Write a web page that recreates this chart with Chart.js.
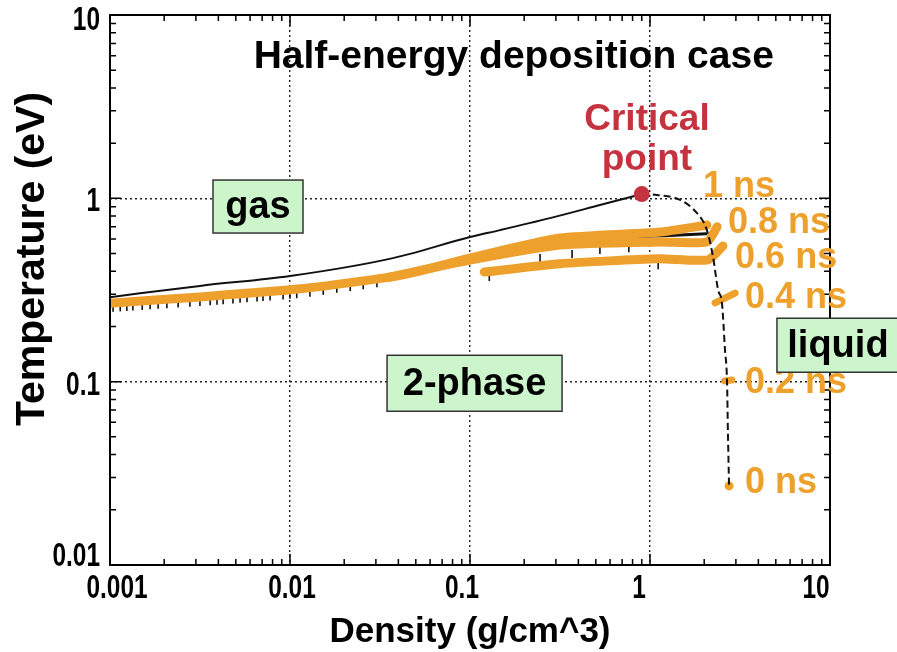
<!DOCTYPE html>
<html lang="en">
<head>
<meta charset="UTF-8">
<title>Half-energy deposition case</title>
<script src="https://cdn.jsdelivr.net/npm/chart.js"></script>
<style>
  html, body { margin: 0; padding: 0; background: #fff; }
</style>
</head>
<body>
<canvas id="phase" width="897" height="652"></canvas>
<script>
// axis ranges and labelled decades
const densityDecades = [0.001, 0.01, 0.1, 1, 10];
const tempDecades = [0.01, 0.1, 1, 10];
const minorSteps = [1, 2, 3, 4, 5, 6, 7, 8, 9];

// coexistence curve, gas branch (solid) up to the critical point
const gasBranch = [
  {x: 0.001, y: 0.289}, {x: 0.00316, y: 0.333}, {x: 0.01, y: 0.377},
  {x: 0.0373, y: 0.472}, {x: 0.1, y: 0.615}, {x: 0.147, y: 0.671},
  {x: 0.278, y: 0.78}, {x: 0.527, y: 0.919}, {x: 0.9, y: 1.055}
];

// coexistence curve, liquid branch (dashed)
const liquidBranch = [
  {x: 0.9, y: 1.055}, {x: 1.09, y: 1.044}, {x: 1.47, y: 0.98},
  {x: 1.82, y: 0.832}, {x: 2.07, y: 0.671}, {x: 2.24, y: 0.479},
  {x: 2.39, y: 0.316}, {x: 2.51, y: 0.268}, {x: 2.61, y: 0.149},
  {x: 2.68, y: 0.0983}, {x: 2.71, y: 0.0524}, {x: 2.75, y: 0.0266}
];

const criticalPoint = [{x: 0.9, y: 1.055}];

// surface state tracks at each time
const track1ns = [
  {x: 0.001, y: 0.268}, {x: 0.00316, y: 0.29}, {x: 0.0114, y: 0.321},
  {x: 0.0409, y: 0.38}, {x: 0.1, y: 0.472}, {x: 0.316, y: 0.607},
  {x: 1.14, y: 0.655}, {x: 2.07, y: 0.715}
];
const track08ns = [
  {x: 0.035, y: 0.37}, {x: 0.1, y: 0.46}, {x: 0.316, y: 0.556},
  {x: 1.14, y: 0.578}, {x: 2.07, y: 0.578}, {x: 2.36, y: 0.7}
];
const track06ns = [
  {x: 0.12, y: 0.396}, {x: 0.316, y: 0.44}, {x: 1.11, y: 0.468},
  {x: 2.1, y: 0.462}, {x: 2.54, y: 0.55}
];
const track04ns = [{x: 2.3, y: 0.269}, {x: 2.97, y: 0.304}];
const track02ns = [{x: 2.6, y: 0.101}, {x: 2.85, y: 0.102}];
const track00ns = [{x: 2.75, y: 0.027}];

// simulation cells under the tracks
const cellMarks = [
  {x: 0.00104, y: 0.2527}, {x: 0.00114, y: 0.2543}, {x: 0.00124, y: 0.2556},
  {x: 0.00134, y: 0.2569}, {x: 0.00151, y: 0.2588}, {x: 0.00167, y: 0.2608},
  {x: 0.00185, y: 0.2624}, {x: 0.00207, y: 0.2644}, {x: 0.00239, y: 0.2668},
  {x: 0.00278, y: 0.2694}, {x: 0.00316, y: 0.2718}, {x: 0.0036, y: 0.2745},
  {x: 0.00393, y: 0.2766}, {x: 0.00425, y: 0.278}, {x: 0.00482, y: 0.2808},
  {x: 0.00528, y: 0.2829}, {x: 0.00577, y: 0.2851}, {x: 0.00656, y: 0.288},
  {x: 0.00708, y: 0.2894}, {x: 0.00775, y: 0.2916}, {x: 0.00915, y: 0.2953},
  {x: 0.01, y: 0.2976}, {x: 0.0109, y: 0.2998}, {x: 0.0129, y: 0.3059},
  {x: 0.0153, y: 0.3129}, {x: 0.0182, y: 0.3209}, {x: 0.0216, y: 0.3281},
  {x: 0.0255, y: 0.3356}, {x: 0.0304, y: 0.3441},
  {x: 0.128, y: 0.372}, {x: 0.245, y: 0.472}, {x: 0.369, y: 0.497},
  {x: 0.527, y: 0.522}, {x: 0.763, y: 0.535}, {x: 1.11, y: 0.432}
];
const coreTrace = [
  {x: 0.25, y: 0.585}, {x: 0.6, y: 0.615}, {x: 1.2, y: 0.625}, {x: 2.05, y: 0.64}
];

// tick label text and small nudges (px) away from the tick position
const densityLabels = ['0.001', '0.01', '0.1', '1', '10'];
const densityNudge = [7, 2, -8, -11, -14];
const tempLabels = ['0.01', '0.1', '1', '10'];
const tempNudge = [-8, 4, 4, 6];

// text placed in data units
const timeLabels = [
  {text: '1 ns', x: 1.97, y: 1.15},
  {text: '0.8 ns', x: 2.71, y: 0.733},
  {text: '0.6 ns', x: 2.97, y: 0.472},
  {text: '0.4 ns', x: 3.37, y: 0.286},
  {text: '0.2 ns', x: 3.37, y: 0.0983},
  {text: '0 ns', x: 3.37, y: 0.028}
];
const regionLabels = [
  {text: 'gas', x: 0.00664, y: 0.902, w: 90, h: 53},
  {text: '2-phase', x: 0.106, y: 0.098, w: 175, h: 56},
  {text: 'liquid', x: 11.07, y: 0.158, w: 122, h: 54}
];

const ORANGE = '#EEA02C';
const RED = '#C5343E';
const GREEN = '#CCF5CC';
const SANS = "'Liberation Sans', Arial, sans-serif";

const isDecade = v => Math.abs(Math.log10(v) - Math.round(Math.log10(v))) < 1e-6;

function logTicks(decades) {
  const out = [];
  decades.forEach((d, i) => {
    if (i === decades.length - 1) { out.push({value: d}); return; }
    minorSteps.forEach(m => out.push({value: +(d * m).toPrecision(6)}));
  });
  return out;
}

// condensed bold digits for the tick labels
function narrowText(ctx, text, px, py, align) {
  const sx = 0.74;
  ctx.save();
  ctx.translate(px, py);
  ctx.scale(sx, 1);
  ctx.textAlign = align;
  ctx.fillText(text, 0, 0);
  ctx.restore();
}

// frame, inward ticks, titles and text labels
const decorations = {
  id: 'decorations',
  afterDatasetsDraw(chart) {
    const {ctx, chartArea: a, scales: {x, y}} = chart;
    ctx.save();
    ctx.strokeStyle = '#000';
    ctx.lineWidth = 1.5;
    ctx.beginPath();
    x.ticks.forEach(t => {
      const px = x.getPixelForValue(t.value);
      const len = isDecade(t.value) ? 11 : 6;
      ctx.moveTo(px, a.bottom); ctx.lineTo(px, a.bottom - len);
      ctx.moveTo(px, a.top); ctx.lineTo(px, a.top + len);
    });
    y.ticks.forEach(t => {
      const py = y.getPixelForValue(t.value);
      const len = isDecade(t.value) ? 11 : 6;
      ctx.moveTo(a.left, py); ctx.lineTo(a.left + len, py);
      ctx.moveTo(a.right, py); ctx.lineTo(a.right - len, py);
    });
    ctx.stroke();
    ctx.lineWidth = 2;
    ctx.strokeRect(a.left, a.top, a.right - a.left, a.bottom - a.top);

    ctx.textBaseline = 'middle';
    ctx.fillStyle = '#000';

    // tick labels
    ctx.font = 'bold 33px ' + SANS;
    densityDecades.forEach((v, i) => {
      narrowText(ctx, densityLabels[i], x.getPixelForValue(v) + densityNudge[i], a.bottom + 24, 'center');
    });
    tempDecades.forEach((v, i) => {
      narrowText(ctx, tempLabels[i], a.left - 10, y.getPixelForValue(v) + tempNudge[i], 'right');
    });

    ctx.textAlign = 'center';

    // title
    ctx.font = 'bold 39px ' + SANS;
    ctx.fillText('Half-energy deposition case', x.getPixelForValue(0.175), y.getPixelForValue(5.9));

    // critical point label
    ctx.fillStyle = RED;
    ctx.font = 'bold 37px ' + SANS;
    const cx = x.getPixelForValue(0.962);
    ctx.fillText('Critical', cx, y.getPixelForValue(2.67));
    ctx.fillText('point', cx, y.getPixelForValue(1.62));

    // time labels
    ctx.fillStyle = ORANGE;
    ctx.font = 'bold 36px ' + SANS;
    ctx.textAlign = 'left';
    timeLabels.forEach(l => ctx.fillText(l.text, x.getPixelForValue(l.x), y.getPixelForValue(l.y)));

    // region boxes
    ctx.textAlign = 'center';
    ctx.font = 'bold 38px ' + SANS;
    regionLabels.forEach(l => {
      const px = x.getPixelForValue(l.x), py = y.getPixelForValue(l.y);
      ctx.fillStyle = GREEN;
      ctx.fillRect(px - l.w / 2, py - l.h / 2, l.w, l.h);
      ctx.strokeStyle = '#333';
      ctx.lineWidth = 1.5;
      ctx.strokeRect(px - l.w / 2, py - l.h / 2, l.w, l.h);
      ctx.fillStyle = '#000';
      ctx.fillText(l.text, px, py + 1);
    });

    // axis titles
    ctx.font = 'bold 35px ' + SANS;
    ctx.fillText('Density (g/cm^3)', (a.left + a.right) / 2, 632);
    ctx.font = 'bold 41px ' + SANS;
    ctx.translate(33, 259);
    ctx.rotate(-Math.PI / 2);
    ctx.fillText('Temperature (eV)', 0, 0);
    ctx.restore();
  }
};

const line = (data, color, width, order, extra) => Object.assign({
  data, showLine: true, borderColor: color, backgroundColor: color,
  borderWidth: width, pointRadius: 0, order,
  borderCapStyle: 'round', borderJoinStyle: 'round'
}, extra || {});

const gridColor = (lo, hi) => c =>
  (c.tick && isDecade(c.tick.value) && c.tick.value > lo && c.tick.value < hi) ? '#222' : 'rgba(0,0,0,0)';

new Chart(document.getElementById('phase'), {
  type: 'scatter',
  data: {
    datasets: [
      line(criticalPoint, RED, 0, 0, {showLine: false, pointRadius: 8, pointBackgroundColor: RED}),
      line(liquidBranch, '#111', 2, 1, {borderDash: [7, 4], cubicInterpolationMode: 'monotone', borderCapStyle: 'butt'}),
      line(track00ns, ORANGE, 0, 2, {showLine: false, pointRadius: 4.5}),
      line(track02ns, ORANGE, 7, 2),
      line(track04ns, ORANGE, 7, 2),
      line(track06ns, ORANGE, 9, 3, {tension: 0.2}),
      line(track08ns, ORANGE, 9, 3, {tension: 0.2}),
      line(track1ns, ORANGE, 9, 3, {tension: 0.2}),
      line(coreTrace, '#111', 3, 4),
      line(gasBranch, '#111', 2, 5, {cubicInterpolationMode: 'monotone'}),
      line(cellMarks, '#111', 1.6, 6, {showLine: false, pointRadius: 4, pointStyle: 'line', rotation: 90})
    ]
  },
  options: {
    responsive: false,
    animation: false,
    layout: {padding: {left: 0, top: 15, right: 67, bottom: 0}},
    plugins: {legend: {display: false}, tooltip: {enabled: false}},
    scales: {
      x: {
        type: 'logarithmic', min: 0.001, max: 10,
        afterBuildTicks: s => { s.ticks = logTicks(densityDecades); },
        afterFit: s => { s.height = 87; },
        grid: {drawTicks: false, lineWidth: 1.4, color: gridColor(0.001, 10)},
        border: {display: false, dash: [2, 3]},
        ticks: {display: false, autoSkip: false}
      },
      y: {
        type: 'logarithmic', min: 0.01, max: 10,
        afterBuildTicks: s => { s.ticks = logTicks(tempDecades); },
        afterFit: s => { s.width = 110; },
        grid: {drawTicks: false, lineWidth: 1.4, color: gridColor(0.01, 10)},
        border: {display: false, dash: [2, 3]},
        ticks: {display: false, autoSkip: false}
      }
    }
  },
  plugins: [decorations]
});
</script>
</body>
</html>
